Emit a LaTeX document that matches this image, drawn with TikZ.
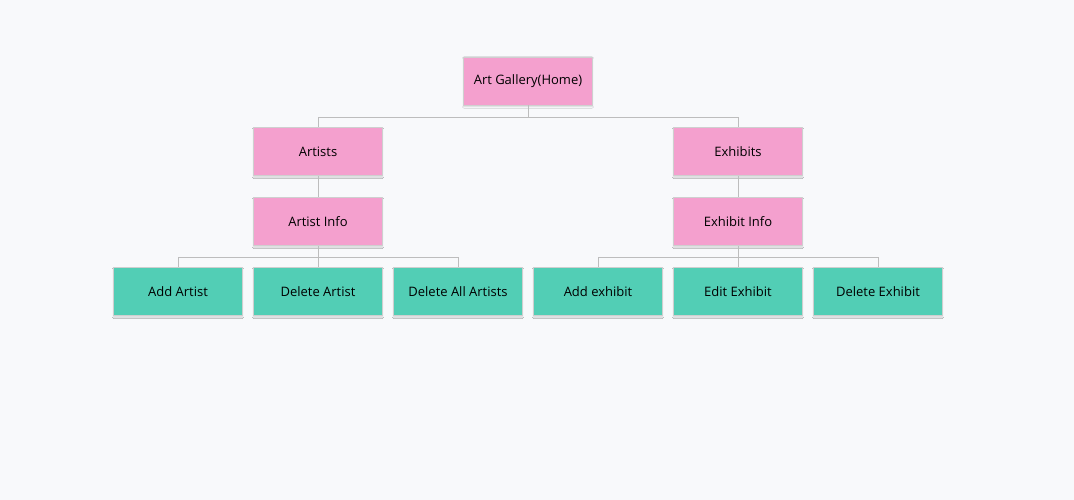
\documentclass[tikz,border=0pt]{standalone}
\usepackage{fontspec}
\setmainfont{Open Sans}
\usetikzlibrary{shadows.blur}
\definecolor{bg}{HTML}{F8F9FB}
\definecolor{pinkbox}{HTML}{F4A0CE}
\definecolor{tealbox}{HTML}{52CEB5}
\definecolor{edgecol}{HTML}{BDBDBD}
\definecolor{bordercol}{HTML}{CFCFCF}
\begin{document}
\begin{tikzpicture}[x=1pt,y=-1pt,
  box/.style={draw=bordercol, line width=0.8pt, minimum width=128.8pt, minimum height=48pt, inner sep=0pt,
    font=\fontsize{13}{15}\selectfont, text=black,
    blur shadow={shadow xshift=0pt, shadow yshift=-1.5pt, shadow blur steps=4, shadow opacity=15, shadow blur radius=1.5pt}},
  pbox/.style={box, fill=pinkbox},
  tbox/.style={box, fill=tealbox},
  link/.style={draw=edgecol, line width=0.9pt}]
\fill[bg] (0,0) rectangle (1074,500);
\useasboundingbox (0,0) rectangle (1074,500);

\node[pbox] (root) at (528,81) {Art Gallery(Home)};
\node[pbox] (artists) at (318,151.5) {Artists};
\node[pbox] (exhibits) at (738,151.5) {Exhibits};
\node[pbox] (ainfo) at (318,221.5) {Artist Info};
\node[pbox] (einfo) at (738,221.5) {Exhibit Info};
\node[tbox] (addart) at (178,291.5) {Add Artist};
\node[tbox] (delart) at (318,291.5) {Delete Artist};
\node[tbox] (delall) at (458,291.5) {Delete All Artists};
\node[tbox] (addex) at (598,291.5) {Add exhibit};
\node[tbox] (editex) at (738,291.5) {Edit Exhibit};
\node[tbox] (delex) at (878,291.5) {Delete Exhibit};

\coordinate (b1) at (528,117);
\coordinate (b2) at (318,257);
\coordinate (b3) at (738,257);

\draw[link] (root.south) -- (b1) -| (artists.north);
\draw[link] (b1) -| (exhibits.north);
\draw[link] (artists.south) -- (ainfo.north);
\draw[link] (exhibits.south) -- (einfo.north);
\draw[link] (ainfo.south) -- (b2) -| (addart.north);
\draw[link] (b2) -- (delart.north);
\draw[link] (b2) -| (delall.north);
\draw[link] (einfo.south) -- (b3) -| (addex.north);
\draw[link] (b3) -- (editex.north);
\draw[link] (b3) -| (delex.north);
\end{tikzpicture}
\end{document}
